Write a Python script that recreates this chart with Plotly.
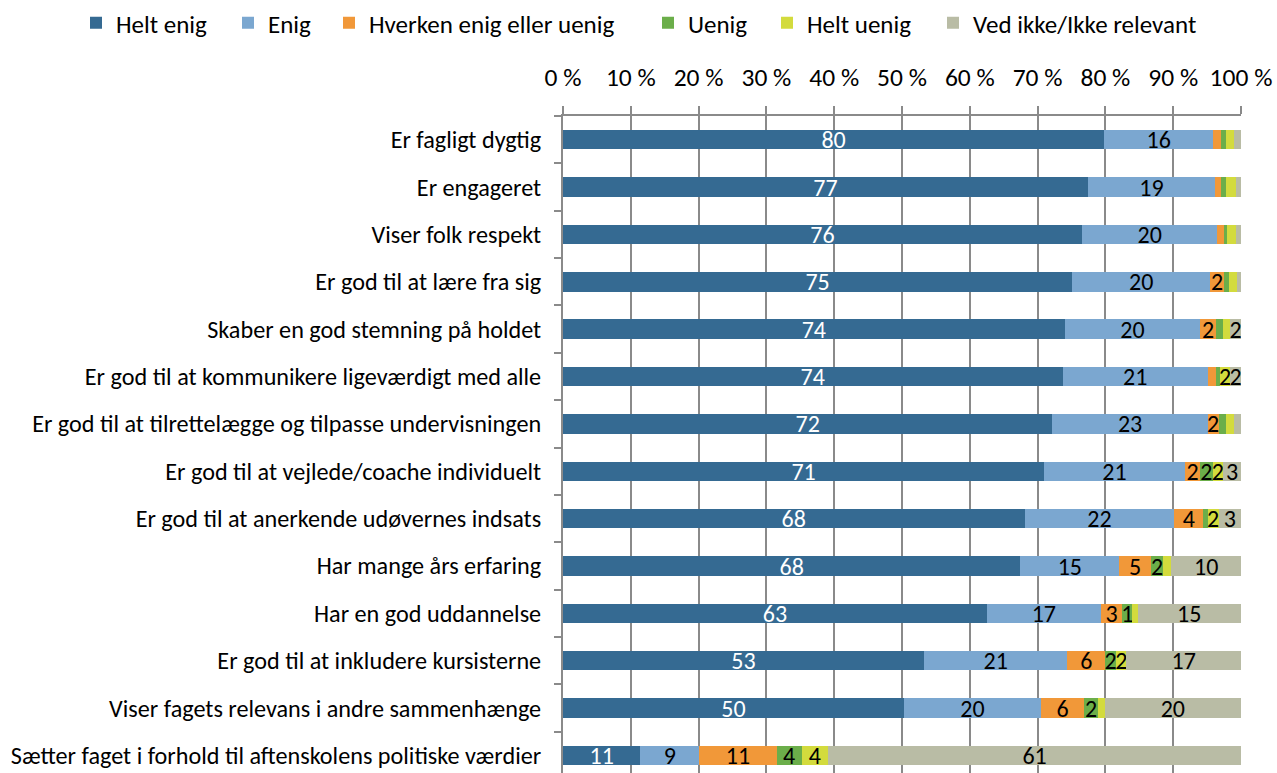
import plotly.graph_objects as go

categories = [
    "Er fagligt dygtig",
    "Er engageret",
    "Viser folk respekt",
    "Er god til at lære fra sig",
    "Skaber en god stemning på holdet",
    "Er god til at kommunikere ligeværdigt med alle",
    "Er god til at tilrettelægge og tilpasse undervisningen",
    "Er god til at vejlede/coache individuelt",
    "Er god til at anerkende udøvernes indsats",
    "Har mange års erfaring",
    "Har en god uddannelse",
    "Er god til at inkludere kursisterne",
    "Viser fagets relevans i andre sammenhænge",
    "Sætter faget i forhold til aftenskolens politiske værdier",
]

series_names = ["Helt enig", "Enig", "Hverken enig eller uenig", "Uenig", "Helt uenig", "Ved ikke/Ikke relevant"]

helt_enig = [79.9, 77.4, 76.4, 74.8, 74.0, 73.6, 72.1, 70.9, 68.0, 67.6, 62.7, 53.2, 50.3, 11.4]
enig      = [16.1, 18.8, 19.9, 20.3, 20.0, 21.4, 22.9, 20.7, 22.1, 14.6, 16.8, 21.1, 20.2, 8.7]
hverken   = [1.2, 0.9, 1.0, 2.0, 2.3, 1.2, 1.6, 2.3, 4.2, 4.7, 3.2, 5.6, 6.4, 11.4]
uenig     = [0.7, 0.7, 0.4, 0.7, 1.1, 0.6, 1.1, 1.8, 0.7, 1.8, 1.45, 1.6, 2.0, 3.7]
helt_uenig= [1.2, 1.4, 1.4, 1.2, 1.0, 1.5, 1.1, 1.6, 1.6, 1.2, 0.8, 1.5, 1.0, 3.9]
ved_ikke  = [1.0, 0.8, 0.7, 0.6, 1.6, 1.6, 1.1, 2.6, 3.3, 10.3, 15.3, 16.9, 20.1, 60.9]

colors = ["#356A92", "#7BA7D0", "#F19839", "#6BAE4A", "#D3DB3D", "#B9BCA5"]
text_colors = ["white", "black", "black", "black", "black", "black"]

label_threshold = 1.45

FONT = "Calibri, Carlito, sans-serif"

# page geometry (pixels)
W, H = 1277, 773
PL, PR, PT, PB = 563, 1241, 116, 773
# left x (page pixels) of each legend entry
legend_left_px = [76, 228, 329, 648, 767, 933]
legend_center_y_px = 23


def to_paper_x(px):
    return (px - PL) / (PR - PL)


def to_paper_y(py):
    return (PB - py) / (PB - PT)


fig = go.Figure()
legend_ids = ["legend", "legend2", "legend3", "legend4", "legend5", "legend6"]
for name, vals, col, tcol, lid in zip(series_names,
                                      [helt_enig, enig, hverken, uenig, helt_uenig, ved_ikke],
                                      colors, text_colors, legend_ids):
    texts = [str(int(round(v))) if v >= label_threshold else "" for v in vals]
    fig.add_trace(go.Bar(
        name=name,
        y=categories,
        x=vals,
        orientation="h",
        marker=dict(color=col, line=dict(width=0)),
        text=texts,
        textposition="inside",
        insidetextanchor="middle",
        textangle=0,
        constraintext="none",
        textfont=dict(color=tcol, size=24, family=FONT),
        width=0.41,
        hoverinfo="x+y+name",
        legend=lid,
    ))

legend_layout = {}
for lid, lx in zip(legend_ids, legend_left_px):
    legend_layout[lid] = dict(
        orientation="h",
        xref="paper", yref="paper",
        x=to_paper_x(lx), xanchor="left",
        y=to_paper_y(legend_center_y_px), yanchor="middle",
        font=dict(size=25, family=FONT, color="black"),
        itemclick=False,
        itemdoubleclick=False,
        bgcolor="rgba(0,0,0,0)",
        borderwidth=0,
    )

fig.update_layout(
    template="none",
    barmode="stack",
    barnorm="percent",
    width=W,
    height=H,
    paper_bgcolor="white",
    plot_bgcolor="white",
    margin=dict(l=PL, r=W - PR, t=PT, b=H - PB, autoexpand=False),
    font=dict(family=FONT, size=24, color="black"),
    uniformtext=dict(minsize=24, mode="show"),
    showlegend=True,
    **legend_layout,
)

fig.update_xaxes(
    side="top",
    range=[0, 100],
    dtick=10,
    ticksuffix=" %",
    ticks="outside",
    ticklen=8,
    tickwidth=2,
    tickcolor="#8A8A8A",
    ticklabelstandoff=10,
    showgrid=True,
    gridcolor="#8A8A8A",
    gridwidth=2,
    showline=True,
    linecolor="#8A8A8A",
    linewidth=2,
    zeroline=False,
    tickfont=dict(size=25.5, color="black", family=FONT),
    automargin=False,
    fixedrange=True,
)

fig.update_yaxes(
    type="category",
    categoryorder="array",
    categoryarray=categories,
    range=[13.37, -0.5],
    ticks="outside",
    tickson="boundaries",
    ticklen=7,
    tickwidth=2,
    tickcolor="#8A8A8A",
    ticklabelstandoff=15,
    showline=True,
    linecolor="#8A8A8A",
    linewidth=2,
    showgrid=False,
    zeroline=False,
    tickfont=dict(size=24.2, color="black", family=FONT),
    automargin=False,
    fixedrange=True,
)

fig.write_html(
    "out.html",
    config={"displayModeBar": False},
    post_script="document.body.style.margin='0px';document.body.style.overflow='hidden';",
)
